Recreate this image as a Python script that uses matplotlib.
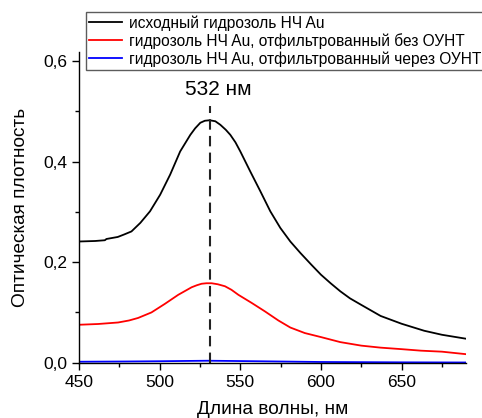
import matplotlib
matplotlib.use("Agg")
import matplotlib.pyplot as plt
from matplotlib.ticker import MultipleLocator, FuncFormatter

plt.rcParams['font.family'] = ['Liberation Sans', 'DejaVu Sans']

# Black: original hydrosol
wl_black = [450, 460, 466, 467, 474, 478, 482.5, 488, 494, 500.3, 506.5, 512.7, 519, 522,
            525.2, 528, 531, 534.5, 537.6, 541, 543.8, 547, 550, 556.2, 562.4, 568.6, 574.8,
            581, 587.3, 594, 600, 606, 612, 618, 625, 637, 650, 664, 675, 690]
od_black = [0.241, 0.242, 0.2435, 0.246, 0.250, 0.255, 0.261, 0.278, 0.301, 0.334, 0.374,
            0.420, 0.453, 0.466, 0.477, 0.481, 0.482, 0.480, 0.473, 0.463, 0.453, 0.438,
            0.420, 0.380, 0.341, 0.301, 0.268, 0.241, 0.218, 0.195, 0.175, 0.158, 0.142,
            0.128, 0.115, 0.093, 0.0775, 0.0636, 0.0556, 0.0477]

# Red: filtered without SWCNT
wl_red = [450, 461.8, 474.2, 481, 486.6, 494.9, 503.2, 511.5, 519.8, 523, 526, 529, 532.2,
          536, 540.5, 544.5, 548.8, 557, 565.3, 573.6, 581, 590, 600, 612, 625, 637, 650,
          662, 675, 690]
od_red = [0.0755, 0.077, 0.080, 0.084, 0.089, 0.100, 0.117, 0.135, 0.150, 0.154, 0.157,
          0.158, 0.158, 0.156, 0.152, 0.145, 0.135, 0.119, 0.102, 0.084, 0.070, 0.059, 0.051,
          0.041, 0.034, 0.030, 0.027, 0.024, 0.022, 0.017]

# Blue: filtered through SWCNT
wl_blue = [450, 480, 500, 530, 560, 600, 650, 690]
od_blue = [0.002, 0.0025, 0.003, 0.004, 0.003, 0.0015, 0.0008, 0.0005]

labels = ["исходный гидрозоль НЧ Au",
          "гидрозоль НЧ Au, отфильтрованный без ОУНТ",
          "гидрозоль НЧ Au, отфильтрованный через ОУНТ"]
peak_wl = 531.5
peak_label = "532 нм"

fig = plt.figure(figsize=(4.82, 4.18), dpi=100)
ax = fig.add_axes([0.164, 0.131, 0.803, 0.745])

l1, = ax.plot(wl_black, od_black, color='black', lw=1.3)
l2, = ax.plot(wl_red, od_red, color='#ff0000', lw=1.3)
l3, = ax.plot(wl_blue, od_blue, color='#0000ff', lw=1.3)

ax.plot([peak_wl, peak_wl], [0, 0.51], color='#222222', lw=1.5, ls=(0, (5, 3)))
ax.text(peak_wl + 5, 0.525, peak_label, fontsize=15, ha='center', va='bottom')

ax.set_xlim(450, 690)
ax.set_ylim(-0.001, 0.618)
ax.xaxis.set_major_locator(MultipleLocator(50))
ax.xaxis.set_minor_locator(MultipleLocator(25))
ax.yaxis.set_major_locator(MultipleLocator(0.2))
ax.yaxis.set_minor_locator(MultipleLocator(0.1))
ax.yaxis.set_major_formatter(FuncFormatter(lambda v, p: f"{v:.1f}".replace('.', ',')))
ax.tick_params(which='major', direction='out', length=5, width=1, labelsize=12.5)
ax.tick_params(which='minor', direction='out', length=3, width=1)
for s in ['top', 'right']:
    ax.spines[s].set_visible(False)
for s in ['left', 'bottom']:
    ax.spines[s].set_linewidth(1)

ax.set_xlabel("Длина волны, нм", fontsize=13.7, labelpad=8)
ax.set_ylabel("Оптическая плотность", fontsize=13.7, labelpad=10)

leg = fig.legend([l1, l2, l3], labels, loc='upper left', bbox_to_anchor=(0.178, 0.971),
                 fontsize=11.2, frameon=True, fancybox=False, edgecolor='#333333',
                 handlelength=2.1, handletextpad=0.45, borderpad=0.2, labelspacing=0.15,
                 borderaxespad=0)
leg.get_frame().set_linewidth(1)

fig.savefig("out.png", dpi=100)
